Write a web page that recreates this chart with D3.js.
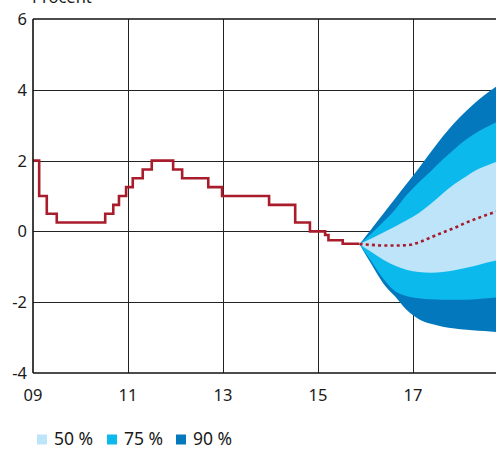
<!DOCTYPE html>
<html><head><meta charset="utf-8">
<script src="https://cdn.jsdelivr.net/npm/d3@7"></script>
<style>
html,body{margin:0;padding:0;background:#fff;overflow:hidden}
text{font-family:"Noto Sans","Open Sans",sans-serif;fill:#1a1a1a}
</style></head><body>
<script>
// ---- data ----
const yTicks = [-4, -2, 0, 2, 4, 6];
const xTicks = [2009, 2011, 2013, 2015, 2017];
const xTickLabels = ["09", "11", "13", "15", "17"];
const yLabel = "Procent";

// repo rate outcome (step changes), decimal year
const rateDates  = [2009.0, 2009.13, 2009.29, 2009.5, 2010.52, 2010.69, 2010.81, 2010.96, 2011.1, 2011.31, 2011.5, 2011.95, 2012.14, 2012.69, 2012.98, 2013.97, 2014.52, 2014.83, 2015.15, 2015.22, 2015.52, 2015.87];
const rateValues = [2.0, 1.0, 0.5, 0.25, 0.5, 0.75, 1.0, 1.25, 1.5, 1.75, 2.0, 1.75, 1.5, 1.25, 1.0, 0.75, 0.25, 0.0, -0.10, -0.25, -0.35, -0.35];

// forecast (quarterly)
const fcDates   = [2015.875, 2016.125, 2016.375, 2016.625, 2016.875, 2017.125, 2017.375, 2017.625, 2017.875, 2018.125, 2018.375, 2018.625, 2018.875];
const fcCentral = [-0.36, -0.38, -0.40, -0.40, -0.39, -0.31, -0.17, -0.03, 0.10, 0.25, 0.38, 0.50, 0.60];
const upper50   = [-0.36, -0.20, -0.03, 0.14, 0.32, 0.52, 0.78, 1.07, 1.34, 1.56, 1.76, 1.90, 2.02];
const lower50   = [-0.36, -0.58, -0.80, -0.97, -1.09, -1.15, -1.17, -1.15, -1.10, -1.03, -0.95, -0.86, -0.78];
const upper75   = [-0.36, -0.06, 0.27, 0.62, 1.04, 1.39, 1.70, 2.03, 2.33, 2.60, 2.82, 3.00, 3.15];
const lower75   = [-0.36, -0.85, -1.34, -1.69, -1.83, -1.89, -1.92, -1.93, -1.93, -1.93, -1.91, -1.88, -1.86];
const upper90   = [-0.36, 0.07, 0.50, 0.93, 1.36, 1.79, 2.24, 2.68, 3.07, 3.41, 3.71, 3.97, 4.20];
const lower90   = [-0.36, -0.93, -1.47, -1.84, -2.23, -2.48, -2.61, -2.69, -2.74, -2.78, -2.81, -2.83, -2.86];

const legendLabels = ["50 %", "75 %", "90 %"];
const bandColors = ["#bee4f9", "#0cb9ed", "#0478bd"];

// ---- drawing ----
const W = 496, H = 450;
const svg = d3.select("body").append("svg").attr("width", W).attr("height", H);

const x = d3.scaleLinear().domain([2009, 2019]).range([33, 508]);
const y = d3.scaleLinear().domain([-4, 6]).range([373, 19]);

// gridlines
const grid = svg.append("g");
grid.selectAll("line.h").data(yTicks.filter(d => d > -4 && d < 6)).join("line")
  .attr("x1", 33).attr("x2", W).attr("y1", d => Math.round(y(d)) + 0.5).attr("y2", d => Math.round(y(d)) + 0.5)
  .attr("stroke", "#222").attr("stroke-width", 1);
grid.selectAll("line.v").data(xTicks.filter(d => d > 2009)).join("line")
  .attr("x1", d => Math.round(x(d)) + 0.5).attr("x2", d => Math.round(x(d)) + 0.5)
  .attr("y1", 19).attr("y2", 373)
  .attr("stroke", "#222").attr("stroke-width", 1);

// fan
const fc = fcDates.map((d, i) => ({d, c: fcCentral[i], u50: upper50[i], l50: lower50[i], u75: upper75[i], l75: lower75[i], u90: upper90[i], l90: lower90[i]}));
const bands = [["u90", "l90", 2], ["u75", "l75", 1], ["u50", "l50", 0]];
bands.forEach(([u, l, ci]) => {
  svg.append("path").datum(fc)
    .attr("fill", bandColors[ci])
    .attr("d", d3.area().x(p => x(p.d)).y0(p => y(p[l])).y1(p => y(p[u])).curve(d3.curveMonotoneX));
});

// outcome line
const rate = rateDates.map((d, i) => ({d, v: rateValues[i]}));
svg.append("path").datum(rate)
  .attr("fill", "none").attr("stroke", "#a81c2c").attr("stroke-width", 2.6)
  .attr("d", d3.line().x(p => x(p.d)).y(p => y(p.v)).curve(d3.curveStepAfter));

// forecast dotted
svg.append("path").datum(fc)
  .attr("fill", "none").attr("stroke", "#a81c2c").attr("stroke-width", 2.6)
  .attr("stroke-dasharray", "3,3.2")
  .attr("d", d3.line().x(p => x(p.d)).y(p => y(p.c)).curve(d3.curveMonotoneX));

// frame (top, left, bottom)
svg.append("line").attr("x1", 33).attr("x2", W).attr("y1", 19).attr("y2", 19).attr("stroke", "#111").attr("stroke-width", 1.6);
svg.append("line").attr("x1", 33).attr("x2", W).attr("y1", 373).attr("y2", 373).attr("stroke", "#111").attr("stroke-width", 1.6);
svg.append("line").attr("x1", 33).attr("x2", 33).attr("y1", 19).attr("y2", 373).attr("stroke", "#111").attr("stroke-width", 1.6);

// y tick labels
svg.append("g").selectAll("text").data(yTicks).join("text")
  .attr("x", 27).attr("y", d => y(d) + 6).attr("text-anchor", "end")
  .attr("font-size", 16.5).text(d => d);

// x tick labels
svg.append("g").selectAll("text").data(xTicks).join("text")
  .attr("x", d => x(d)).attr("y", 401).attr("text-anchor", "middle")
  .attr("font-size", 16.5).text((d, i) => xTickLabels[i]);

// axis title
svg.append("text").attr("x", 32).attr("y", 3).attr("font-size", 16.5).text(yLabel);

// legend
const legX = [37, 107, 176];
const lg = svg.append("g");
legendLabels.forEach((t, i) => {
  lg.append("rect").attr("x", legX[i]).attr("y", 434.5).attr("width", 10).attr("height", 10).attr("fill", bandColors[i]);
  lg.append("text").attr("x", legX[i] + 17).attr("y", 445).attr("font-size", 17.5).text(t);
});
</script>
</body></html>
